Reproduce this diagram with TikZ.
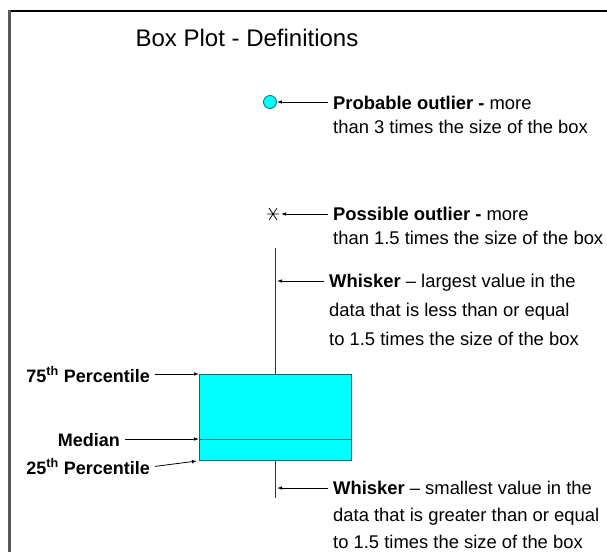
\documentclass[tikz,border=0pt]{standalone}
\usepackage{fontspec}
\setmainfont{Liberation Sans}
\usetikzlibrary{positioning, arrows.meta, calc}
\definecolor{aqua}{RGB}{0,255,255}
\definecolor{boxline}{RGB}{0,110,110}

\begin{document}
\begin{tikzpicture}[x=1pt, y=-1pt, every node/.style={font=\fontsize{18.4}{24}\selectfont}]
  \def\WX{275}\def\BT{374}\def\BB{460}\def\MED{439}
  \tikzset{
    edge/.style={line width=1.5pt},
    arr/.style={line width=0.8pt, -{Latex[length=5pt,width=3.5pt]}},
    boxplot/.style={draw=boxline, line width=1pt},
    lbl/.style={anchor=north west, align=left, inner xsep=5pt, inner ysep=0pt},
    llbl/.style={anchor=base east, inner xsep=5pt, inner ysep=0pt, font=\fontsize{18}{24}\selectfont\bfseries},
  }
  \useasboundingbox (0,0) rectangle (607,552);
  %% frame
  \draw[edge, black] (8,11) -- (607,11);
  \draw[line width=3pt, black!65] (9.5,10) -- (9.5,552);
  \node[font=\fontsize{24}{28}\selectfont] (title) at (247,38) {Box Plot - Definitions};
  %% outliers
  \node[circle, draw=boxline, fill=aqua, line width=0.8pt, minimum size=13pt, inner sep=0pt] (prob) at (270,102) {};
  \coordinate (poss) at (273,214);
  \draw[line width=0.7pt] ($(poss)+(-6,0)$) -- ($(poss)+(6,0)$)
    ($(poss)+(-4,-6)$) -- ($(poss)+(4,6)$) ($(poss)+(-4,6)$) -- ($(poss)+(4,-6)$);
  \node[lbl] (probtxt) at (328,96) {\textbf{Probable outlier -} more\\than 3 times the size of the box};
  \node[lbl] (posstxt) at (328,207) {\textbf{Possible outlier -} more\\than 1.5 times the size of the box};
  \draw[arr] (probtxt.west |- prob) -- (prob.east);
  \draw[arr] (posstxt.west |- poss) -- ($(poss)+(8,0)$);
  %% box and whiskers
  \node[boxplot, fill=aqua, minimum width=152pt, minimum height=86pt, inner sep=0pt, anchor=north west] (box) at (199,\BT) {};
  \draw[boxplot] (box.west |- 0,\MED) coordinate (medl) -- (box.east |- 0,\MED);
  \coordinate (wtop) at (\WX,248);
  \coordinate (wbot) at (\WX,498);
  \draw[line width=0.8pt, black!80] (wtop) -- (\WX,\BT);
  \draw[line width=0.8pt, black!80] (\WX,\BB) -- (wbot);
  \coordinate (wu) at (\WX+2,281);
  \coordinate (wl) at (\WX+2,488);
  \node[lbl] (whiskU) at (324,274) {\textbf{Whisker} -- largest value in the\\[5pt]data that is less than or equal\\[5pt]to 1.5 times the size of the box};
  \node[lbl] (whiskL) at (328,481) {\textbf{Whisker} -- smallest value in the\\[3pt]data that is greater than or equal\\[3pt]to 1.5 times the size of the box};
  \draw[arr] (whiskU.west |- wu) -- (wu);
  \draw[arr] (whiskL.west |- wl) -- (wl);
  %% left labels
  \node[llbl] (p75) at (155,382) {75\textsuperscript{th} Percentile};
  \node[llbl] (med) at (125,446) {Median};
  \node[llbl] (p25) at (155,474) {25\textsuperscript{th} Percentile};
  \draw[arr] (p75.east |- box.north west) -- (box.north west);
  \draw[arr] (med.east |- medl) -- (medl);
  \draw[arr] (p25.east) -- ([xshift=-2pt]box.south west);
\end{tikzpicture}
\end{document}
